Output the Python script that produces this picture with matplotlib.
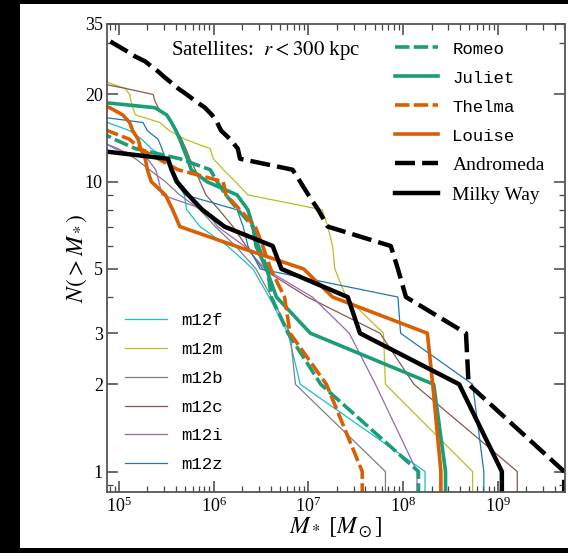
import numpy as np
import matplotlib.pyplot as plt
from matplotlib.patches import Rectangle
from matplotlib.ticker import LogLocator, NullFormatter

plt.rcParams['font.family'] = 'Liberation Serif'
plt.rcParams['mathtext.fontset'] = 'stix'

# stellar masses of satellites within 300 kpc [Msun]
m12f = [1.7e8, 8.2e6, 6.1e6, 3.85e6, 2.6e6, 1.4e6, 7.2e5, 5.2e5, 4.9e5, 4.2e5,
        3.6e5, 3.1e5, 2.2e5, 1.75e5, 1.3e5, 7.6e4, 6e4]
m12m = [5.4e8, 6.5e7, 6.2e7, 2.5e7, 1.9e7, 1.8e7, 1.6e7, 1.4e7, 2.3e6, 1.7e6,
        1.27e6, 9.9e5, 9.2e5, 5e5, 3.4e5, 2.7e5, 1.5e5, 1.4e5, 1.34e5, 1.3e5,
        1.16e5, 7.6e4, 6e4]
m12b = [6.5e7, 7.3e6, 6.4e6, 4.07e6, 2.8e6, 1.7e6, 1.04e6, 7.2e5, 4.4e5, 3.1e5,
        2.1e5, 1.5e5, 9.8e4, 5.6e4]
m12c = [1.6e9, 1.3e8, 5.7e7, 9.8e6, 3.3e6, 2.2e6, 1.6e6, 1.14e6, 8.3e5, 7.2e5,
        6.4e5, 5.6e5, 5.1e5, 4.6e5, 4.1e5, 3.6e5, 3.1e5, 2.6e5, 2.4e5, 2.3e5,
        1.16e5, 5.6e4]
m12i = [1.4e8, 5.1e7, 2.7e7, 1.1e7, 3.5e6, 2.1e6, 1.1e6, 8.1e5, 2.85e5, 2.65e5,
        2.45e5, 2e5, 9.1e4, 6e4]
m12z = [7.1e8, 5.4e8, 9.4e7, 8.8e7, 3.1e6, 2.3e6, 2.05e6, 1.77e6, 5e5, 3.9e5,
        3.5e5, 3.1e5, 2.85e5, 2.6e5, 2e5, 1.8e5, 4.4e4]

romeo = [1.45e8, 1.35e7, 6.1e6, 4.06e6, 3.7e6, 2.96e6, 2.6e6, 1.8e6, 1.35e6,
         1.09e6, 9.2e5, 4.4e5, 1.5e5, 9e4, 6e4]
juliet = [2.8e8, 2.1e8, 1.05e7, 4.6e6, 3.6e6, 2.8e6, 2.6e6, 2.3e6, 1.77e6,
          8.5e5, 5.8e5, 5.3e5, 4.8e5, 4.4e5, 4.0e5, 3.6e5, 3.2e5, 2.4e5, 4.7e4]
thelma = [3.7e7, 1.55e7, 6.4e6, 5.6e6, 4.0e6, 3.3e6, 2.75e6, 1.9e6, 1.35e6,
          1.26e6, 4.2e5, 2.6e5, 1.67e5, 1.3e5, 7.6e4, 6e4]
louise = [2.5e8, 2.05e8, 1.8e8, 1.8e7, 8.9e6, 1.7e6, 4.4e5, 3.7e5, 3.1e5,
          2.2e5, 2.0e5, 1.9e5, 1.7e5, 1.6e5, 1.4e5, 1.3e5, 1.1e5, 8e4, 5e4]
andromeda = [5.0e9, 4.9e8, 4.6e8, 1.07e8, 8.8e7, 7.4e7, 1.6e7, 1.27e7, 1.0e7,
             8.2e6, 6.8e6, 1.9e6, 1.8e6, 1.5e6, 1.2e6, 1.09e6, 9.6e5, 8.1e5,
             6.4e5, 5.2e5, 4.2e5, 3.55e5, 3.0e5, 2.6e5, 2.2e5, 1.9e5, 1.5e5,
             1.26e5, 1.05e5, 8.8e4, 7.5e4, 6.3e4, 5.3e4, 4.5e4]
milky_way = [1.1e9, 3.9e8, 3.5e7, 2.6e7, 5.2e6, 4.2e6, 1.3e6, 7.6e5, 5.4e5,
             4.1e5, 3.6e5, 3.3e5, 4.0e4, 3.0e4]

fire_hosts = ['m12f', 'm12m', 'm12b', 'm12c', 'm12i', 'm12z']
fire_masses = [m12f, m12m, m12b, m12c, m12i, m12z]
fire_colors = ['#17becf', '#bcbd22', '#7f7f7f', '#8c564b', '#9467bd', '#1f77b4']

pair_names = ['Romeo', 'Juliet', 'Thelma', 'Louise']
pair_masses = [romeo, juliet, thelma, louise]
pair_colors = ['#1b9e77', '#1b9e77', '#d95f02', '#d95f02']
pair_styles = [(0, (4, 1.2)), '-', (0, (4, 1.2)), '-']


def cumulative(masses):
    # N(>M): sort descending, then drop to zero past the most massive one
    m = np.sort(np.asarray(masses))[::-1]
    n = np.arange(1, len(m) + 1)
    return np.r_[m[0], m], np.r_[0, n]


fig = plt.figure(figsize=(5.68, 5.53), dpi=100, facecolor='black')
fig.patches.append(Rectangle((20 / 568, 5 / 553), 548 / 568, 544 / 553,
                             transform=fig.transFigure, facecolor='white',
                             edgecolor='none', zorder=-1))
ax = fig.add_axes([107 / 568, 61 / 553, 458 / 568, 468 / 553])

fire_lines = []
for name, ms, c in zip(fire_hosts, fire_masses, fire_colors):
    x, y = cumulative(ms)
    ln, = ax.plot(x, y, color=c, lw=0.9, label=name)
    fire_lines.append(ln)

main_lines = []
for name, ms, c, ls in zip(pair_names, pair_masses, pair_colors, pair_styles):
    x, y = cumulative(ms)
    ln, = ax.plot(x, y, color=c, lw=2.6, ls=ls, label=name)
    main_lines.append(ln)

x, y = cumulative(andromeda)
ln, = ax.plot(x, y, color='black', lw=3.2, ls=(0, (4.5, 1.6)), label='Andromeda')
main_lines.append(ln)
x, y = cumulative(milky_way)
ln, = ax.plot(x, y, color='black', lw=3.2, label='Milky Way')
main_lines.append(ln)

ax.set_xscale('log')
ax.set_yscale('log')
ax.set_xlim(7.5e4, 5.1e9)
ax.set_ylim(0.85, 35)

ax.set_yticks([1, 2, 3, 5, 10, 20, 35])
ax.set_yticklabels(['1', '2', '3', '5', '10', '20', '35'])
ax.yaxis.set_minor_locator(LogLocator(base=10, subs=np.arange(2, 10)))
ax.yaxis.set_minor_formatter(NullFormatter())
ax.xaxis.set_major_locator(LogLocator(base=10))
ax.xaxis.set_minor_locator(LogLocator(base=10, subs=np.arange(2, 10)))
ax.xaxis.set_minor_formatter(NullFormatter())

ax.tick_params(which='both', direction='in', top=True, right=True,
               color='#444444', labelsize=13, pad=3)
ax.tick_params(which='major', length=8, width=1.1)
ax.tick_params(which='minor', length=4, width=0.9)
for sp in ax.spines.values():
    sp.set_color('#555555')
    sp.set_linewidth(1.3)

ax.set_xlabel(r'$M_*\ [M_\odot]$', fontsize=17, labelpad=0)
ax.set_ylabel(r'$N(>M_*)$', fontsize=17, labelpad=-3)

ax.text(0.14, 0.944, r'Satellites:  $r < 300$ kpc', transform=ax.transAxes,
        fontsize=15, va='center')

leg1 = ax.legend(handles=main_lines, loc='upper left',
                 bbox_to_anchor=(0.629, 0.965), frameon=False,
                 prop={'family': 'Liberation Serif', 'size': 14},
                 handlelength=2.2, handletextpad=0.75, labelspacing=0.64,
                 borderpad=0, borderaxespad=0)
for t in leg1.get_texts()[:4]:
    t.set_family('Liberation Mono')
    t.set_size(12.5)
ax.add_artist(leg1)

leg2 = ax.legend(handles=fire_lines, loc='lower left',
                 bbox_to_anchor=(0.039, 0.042), frameon=False,
                 prop={'family': 'Liberation Mono', 'size': 12.5},
                 handlelength=2.4, handletextpad=0.85, labelspacing=0.79,
                 borderpad=0, borderaxespad=0)

fig.savefig('out.png', dpi=100, facecolor=fig.get_facecolor())
